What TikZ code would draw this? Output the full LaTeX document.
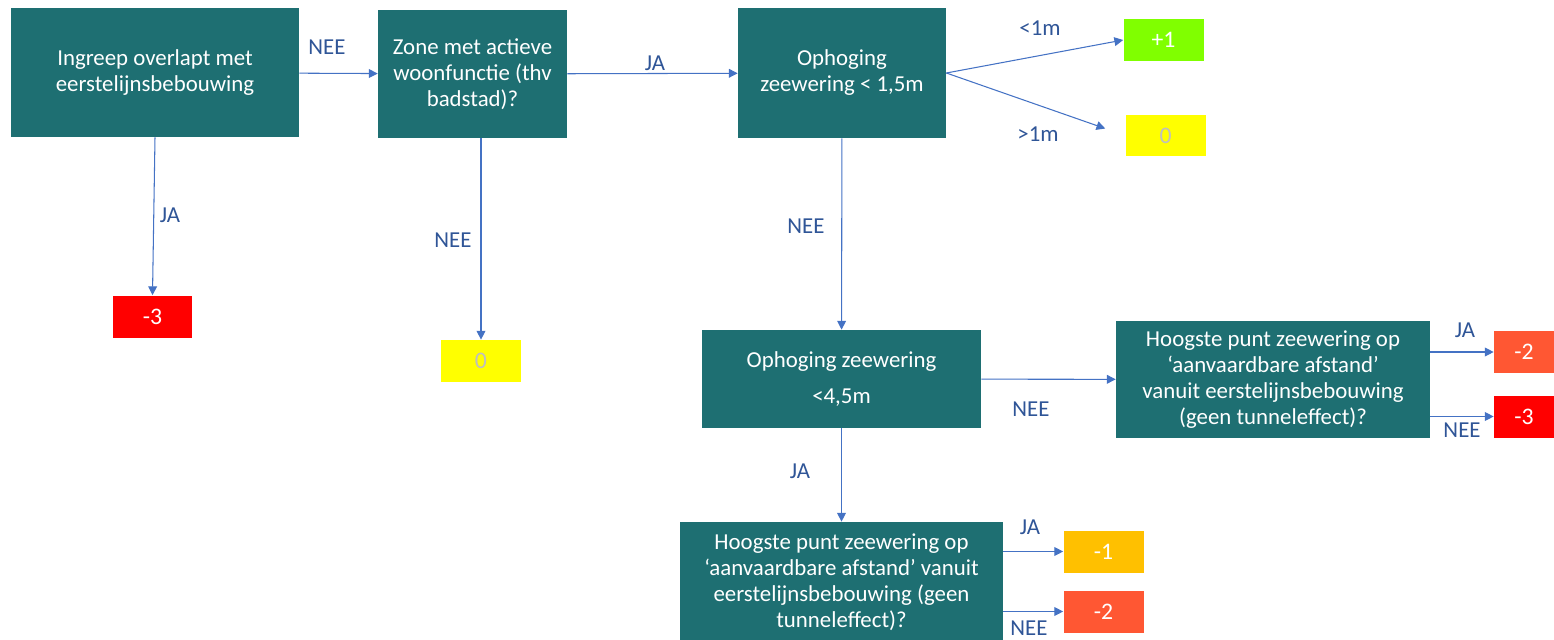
\documentclass[tikz,border=0pt]{standalone}
\usepackage{fontspec}
\setmainfont{Carlito}
\usepackage{xcolor}
\usetikzlibrary{positioning,calc}
\usetikzlibrary{arrows.meta}
\definecolor{boxteal}{RGB}{30,111,114}
\definecolor{pijlblauw}{RGB}{68,114,196}
\definecolor{labelblauw}{RGB}{47,85,151}
\definecolor{rood}{RGB}{255,0,0}
\definecolor{oranjerood}{RGB}{255,87,51}
\definecolor{oranje}{RGB}{255,192,0}
\definecolor{groen}{RGB}{128,255,0}
\definecolor{geel}{RGB}{255,255,0}
\definecolor{grijs}{RGB}{191,191,191}

\begin{document}
\begin{tikzpicture}[x=0.02cm,y=-0.02cm,
    vraag/.style={fill=boxteal,text=white,align=center,inner sep=0pt,font=\fontsize{13}{14.8}\selectfont},
    score/.style={minimum width=1.6cm,minimum height=0.84cm,inner sep=0pt,text=white,font=\fontsize{13.5}{15}\selectfont},
    pijl/.style={draw=pijlblauw,line width=0.6pt,-{Triangle[length=5pt,width=5pt]}},
    lbl/.style={text=labelblauw,font=\fontsize{13}{15}\selectfont}]
            \useasboundingbox (0,0) rectangle (1554,639);

            % vragen
            \node[vraag,minimum width=5.76cm,minimum height=2.58cm] (ingreep) at (155,72.5) {Ingreep overlapt met\\eerstelijnsbebouwing};
            \node[vraag,minimum width=3.78cm,minimum height=2.56cm] (zone) at (472.5,74) {Zone met actieve\\woonfunctie (thv\\badstad)?};
            \node[vraag,minimum width=4.16cm,minimum height=2.6cm] (ophoogEen) at (842,73) {Ophoging\\zeewering < 1,5m};
            \node[vraag,minimum width=5.58cm,minimum height=1.96cm] (ophoogTwee) at (841.5,379) {Ophoging zeewering\\[6pt]<4,5m};
            \node[vraag,minimum width=6.28cm,minimum height=2.34cm] (hoogsteR) at (1273,379.5) {Hoogste punt zeewering op\\‘aanvaardbare afstand’\\vanuit eerstelijnsbebouwing\\(geen tunneleffect)?};
            \node[vraag,minimum width=6.46cm,minimum height=2.4cm] (hoogsteO) at (841.5,582) {Hoogste punt zeewering op\\‘aanvaardbare afstand’ vanuit\\eerstelijnsbebouwing (geen\\tunneleffect)?};

            % scores
            \node[score,fill=rood] (minDrieL) at (152.5,316.5) {-3};
            \node[score,fill=geel,text=grijs] (nulM) at (481,361) {0};
            \node[score,fill=groen] (plusEen) at (1163.5,40) {+1};
            \node[score,fill=geel,text=grijs] (nulR) at (1165.5,135.5) {0};
            \node[score,fill=oranjerood,minimum width=1.2cm] (minTweeR) at (1524,352) {-2};
            \node[score,fill=rood,minimum width=1.2cm] (minDrieR) at (1524,416.5) {-3};
            \node[score,fill=oranje] (minEen) at (1103.5,551.5) {-1};
            \node[score,fill=oranjerood] (minTweeO) at (1103.5,611.5) {-2};

            % pijlen
            \draw[pijl] (ingreep) -- (zone);
            \draw[pijl] (ingreep.south) -- (minDrieL.north);
            \draw[pijl] (zone) -- (ophoogEen);
            \draw[pijl] (nulM.north |- zone.south) -- (nulM.north);
            \draw[pijl] (ophoogEen.east) -- (plusEen.west);
            \draw[pijl,shorten >=12pt] (ophoogEen.east) -- (nulR.west);
            \draw[pijl] (ophoogEen) -- (ophoogTwee);
            \draw[pijl] (ophoogTwee) -- (hoogsteR);
            \draw[pijl] (ophoogTwee) -- (hoogsteO);
            \draw[pijl] (hoogsteR.east |- minTweeR.west) -- (minTweeR.west);
            \draw[pijl] (hoogsteR.east |- minDrieR.west) -- (minDrieR.west);
            \draw[pijl] (hoogsteO.east |- minEen.west) -- (minEen.west);
            \draw[pijl] (hoogsteO.east |- minTweeO.west) -- (minTweeO.west);

            % labels
            \node[lbl] (neeA) at (327,47) {NEE};
            \node[lbl] (jaA) at (170,215) {JA};
            \node[lbl] (jaB) at (655,63) {JA};
            \node[lbl] (neeB) at (453,240) {NEE};
            \node[lbl] (kleiner) at (1040,28) {<1m};
            \node[lbl] (groter) at (1038,134) {>1m};
            \node[lbl] (neeC) at (806,226) {NEE};
            \node[lbl] (neeD) at (1031,409) {NEE};
            \node[lbl] (jaD) at (800,471) {JA};
            \node[lbl] (jaE) at (1465,330) {JA};
            \node[lbl] (neeE) at (1462,430) {NEE};
            \node[lbl] (jaF) at (1030,527) {JA};
            \node[lbl] (neeF) at (1029,628) {NEE};
        \end{tikzpicture}
\end{document}
